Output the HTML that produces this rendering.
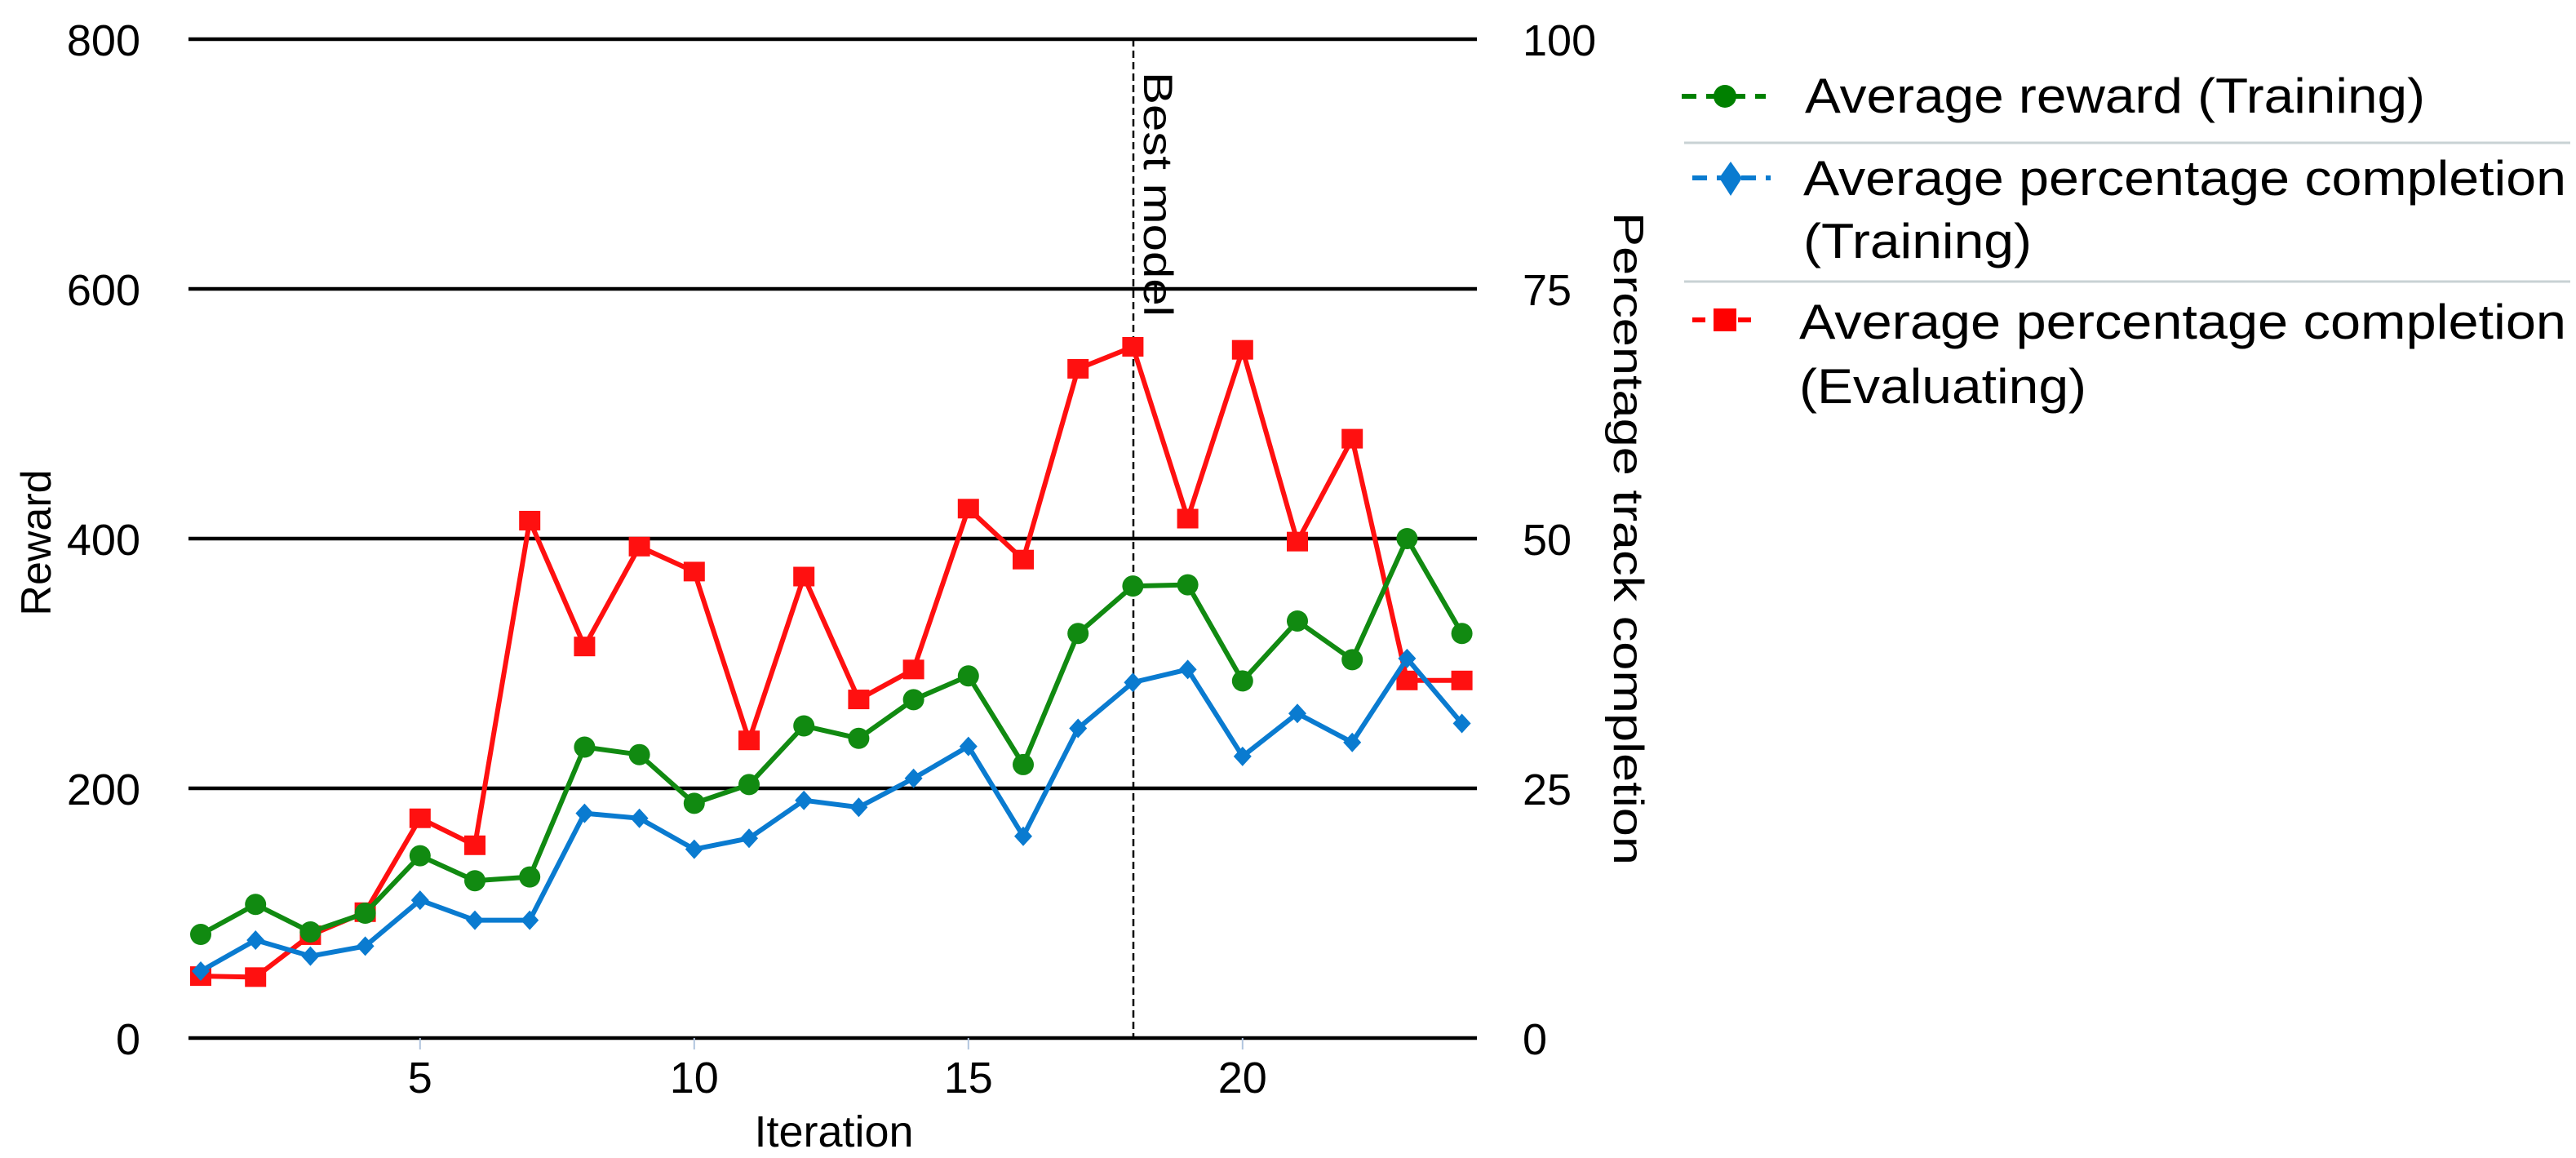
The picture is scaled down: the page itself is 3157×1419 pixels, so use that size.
<!DOCTYPE html>
<html><head><meta charset="utf-8"><style>
html,body{margin:0;padding:0;background:#fff;}
svg{display:block;font-family:"Liberation Sans",sans-serif;}
</style></head>
<body>
<svg id="chart" width="3157" height="1419" viewBox="0 0 3157 1419" xmlns="http://www.w3.org/2000/svg">
<g id="grid"></g>
<g id="ticks"></g>
<line x1="1389" y1="48" x2="1389" y2="1272" stroke="#000" stroke-width="2.5" stroke-dasharray="9,5"/>
<text transform="translate(1402,88) rotate(90)" font-size="50" fill="#000" textLength="300" lengthAdjust="spacingAndGlyphs">Best model</text>
<g id="series"></g>
<text transform="translate(62,665) rotate(-90)" font-size="52" text-anchor="middle">Reward</text>
<text transform="translate(1978,660) rotate(90)" font-size="52" text-anchor="middle" textLength="800" lengthAdjust="spacingAndGlyphs">Percentage track completion</text>
<text x="1022" y="1405" font-size="54" text-anchor="middle">Iteration</text>
<g font-size="60">
 <g>
  <line x1="2061" y1="118" x2="2164" y2="118" stroke="#008000" stroke-width="6" stroke-dasharray="18,12"/>
  <circle cx="2114" cy="118" r="14" fill="#008000"/>
  <text x="2212" y="138" textLength="760" lengthAdjust="spacingAndGlyphs">Average reward (Training)</text>
 </g>
 <line x1="2064" y1="175" x2="3150" y2="175" stroke="#c8d2d4" stroke-width="3"/>
 <g>
  <line x1="2074" y1="218" x2="2170" y2="218" stroke="#0a7bd0" stroke-width="6" stroke-dasharray="18,12"/>
  <path d="M2121,198 L2135,218 L2121,240 L2107,218 Z" fill="#0a7bd0"/>
  <text x="2210" y="239" textLength="935" lengthAdjust="spacingAndGlyphs">Average percentage completion</text>
  <text x="2210" y="316" textLength="280" lengthAdjust="spacingAndGlyphs">(Training)</text>
 </g>
 <line x1="2064" y1="345" x2="3150" y2="345" stroke="#c8d2d4" stroke-width="3"/>
 <g>
  <line x1="2074" y1="392" x2="2154" y2="392" stroke="#ff0000" stroke-width="6" stroke-dasharray="16,12"/>
  <rect x="2100" y="378" width="28" height="28" fill="#ff0000"/>
  <text x="2205" y="415" textLength="940" lengthAdjust="spacingAndGlyphs">Average percentage completion</text>
  <text x="2205" y="494" textLength="352" lengthAdjust="spacingAndGlyphs">(Evaluating)</text>
 </g>
</g>
</svg>
<script>
const iterations = [1,2,3,4,5,6,7,8,9,10,11,12,13,14,15,16,17,18,19,20,21,22,23,24];
const rewardTraining = [83,107,85,100,146,126,129,233,227,188,203,250,240,271,290,219,324,362,363,286,334,303,400,324];
const completionTraining = [6.7,9.8,8.2,9.2,13.8,11.8,11.8,22.5,22,18.9,20,23.8,23.1,26,29.2,20.2,31,35.6,36.9,28.2,32.5,29.6,38,31.5];
const completionEvaluating = [6.2,6.1,10.3,12.6,22,19.3,51.8,39.2,49.2,46.7,29.8,46.2,33.9,36.9,53,47.9,67,69.2,52,68.9,49.7,60,35.8,35.8];
const leftTicks = [0,200,400,600,800];
const rightTicks = [0,25,50,75,100];
const xTicks = [5,10,15,20];

const NS = "http://www.w3.org/2000/svg";
const X0 = 246, XSTEP = 67.2, YBASE = 1272, YTOP = 48;
function xs(i){ return X0 + (i-1)*XSTEP; }
function yL(v){ return YBASE - v/800*(YBASE-YTOP); }
function yR(v){ return YBASE - v/100*(YBASE-YTOP); }
function mk(tag, attrs, parent){
  const e = document.createElementNS(NS, tag);
  for (const k in attrs) e.setAttribute(k, attrs[k]);
  parent.appendChild(e); return e;
}
const grid = document.getElementById('grid');
const ticks = document.getElementById('ticks');
const series = document.getElementById('series');

leftTicks.forEach((t, k) => {
  const ln = mk('line', {x1:231, x2:1810, y1:yL(t), y2:yL(t), stroke:'#000', 'stroke-width':4.5}, grid);
  
  
  const tl = mk('text', {x:172, y:yL(t)+20, 'font-size':54, 'text-anchor':'end'}, ticks);
  tl.textContent = t;
  
  
});
rightTicks.forEach(t => {
  const tl = mk('text', {x:1866, y:yR(t)+20, 'font-size':54, 'text-anchor':'start'}, ticks);
  tl.textContent = t;
  
  
});
xTicks.forEach(t => {
  const tk = mk('line', {x1:xs(t), x2:xs(t), y1:YBASE, y2:YBASE+14, stroke:'#b0c4de', 'stroke-width':2}, ticks);
  
  
  const tl = mk('text', {x:xs(t), y:1339, 'font-size':54, 'text-anchor':'middle'}, ticks);
  tl.textContent = t;
  
  
});

function drawSeries(vals, yfn, color, shape, name){
  const g = mk('g', {}, series);
  
  
  const pts = vals.map((v,i) => xs(iterations[i]) + ',' + yfn(v)).join(' ');
  const pl = mk('polyline', {points:pts, fill:'none', stroke:color, 'stroke-width':6, 'stroke-linejoin':'round'}, g);
  
  
  vals.forEach((v,i) => {
    const x = xs(iterations[i]), y = yfn(v);
    let m;
    if (shape === 'circle') m = mk('circle', {cx:x, cy:y, r:13, fill:color}, g);
    else if (shape === 'diamond') m = mk('path', {d:`M${x},${y-12} L${x+11},${y} L${x},${y+12} L${x-11},${y} Z`, fill:color}, g);
    else m = mk('rect', {x:x-13, y:y-12, width:26, height:24, fill:color}, g);
    
    
  });
}
drawSeries(completionEvaluating, yR, '#ff1010', 'square', 'completion-evaluating');
drawSeries(completionTraining, yR, '#0a7bd0', 'diamond', 'completion-training');
drawSeries(rewardTraining, yL, '#118a11', 'circle', 'reward-training');
</script>
</body></html>
